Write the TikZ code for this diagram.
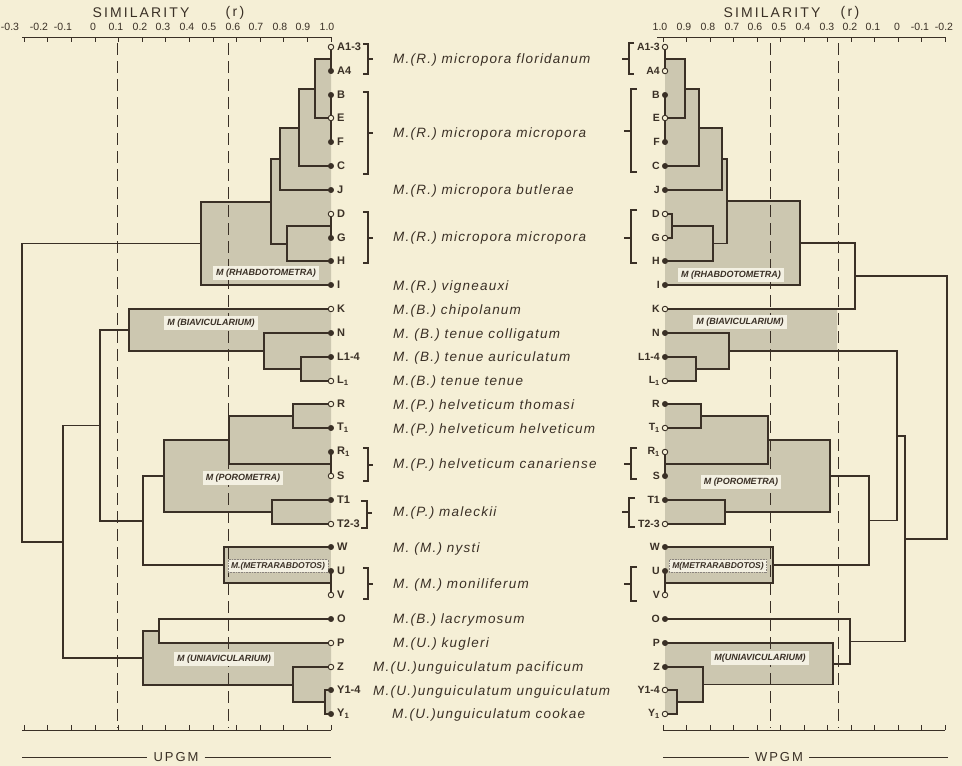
\documentclass[tikz,border=0pt]{standalone}
\usepackage{fontspec}
\setmainfont{Liberation Sans}
\newfontfamily\spfont[LetterSpace=9]{Liberation Sans}
\newfontfamily\ttlfont[LetterSpace=15]{Liberation Sans}
\definecolor{bg}{RGB}{245,239,214}
\definecolor{ink}{RGB}{58,48,38}
\definecolor{shd}{RGB}{204,199,176}
\definecolor{lbl}{RGB}{243,240,226}
\begin{document}
\begin{tikzpicture}[x=1pt,y=-1pt,
  tree/.style={draw=ink,line width=1.3pt},
  dsh/.style={draw=ink,line width=1pt,dash pattern=on 12pt off 6pt},
  axisline/.style={draw=ink,line width=0.9pt},
  dotf/.style={circle,fill=ink,draw=ink,inner sep=0pt,minimum size=5.5pt},
  doth/.style={circle,fill=bg,draw=ink,line width=0.9pt,inner sep=0pt,minimum size=5.5pt},
  leafL/.style={anchor=west,font=\fontsize{11}{12}\selectfont\bfseries,text=ink,inner sep=0pt},
  leafR/.style={anchor=east,font=\fontsize{10.5}{12}\selectfont\bfseries,text=ink,inner sep=0pt},
  sp/.style={anchor=west,font=\spfont\itshape\fontsize{13.5}{15}\selectfont,text=ink,inner sep=0pt},
  grp/.style={fill=lbl,font=\fontsize{9}{10}\selectfont\bfseries\itshape,text=ink,inner xsep=3pt,inner ysep=2.5pt},
  tl/.style={font=\fontsize{10.5}{12}\selectfont,text=ink,inner sep=0pt},
  ttl/.style={font=\ttlfont\fontsize{14}{16}\selectfont,text=ink,inner sep=0pt},
  brk/.style={draw=ink,line width=1.1pt}]

\fill[bg] (0,0) rectangle (962,766);
\useasboundingbox (0,0) rectangle (962,766);

% ---------- shading (left)
\fill[shd] (315,59)--(331,59)--(331,285)--(201,285)--(201,202)--(271,202)--(271,159)--(280,159)--(280,128)--(299,128)--(299,89)--(315,89)--cycle;
\fill[shd] (129,309)--(331,309)--(331,381)--(301,381)--(301,369)--(264,369)--(264,351)--(129,351)--cycle;
\fill[shd] (293,404)--(331,404)--(331,524)--(272,524)--(272,512)--(164,512)--(164,440)--(229,440)--(229,416)--(293,416)--cycle;
\fill[shd] (224,547) rectangle (331,583);
\fill[shd] (143,631)--(159,631)--(159,643)--(331,643)--(331,714)--(325,714)--(325,702)--(293,702)--(293,685)--(143,685)--cycle;
% ---------- shading (right)
\fill[shd] (665,59)--(685,59)--(685,89)--(699,89)--(699,128)--(722,128)--(722,159)--(727,159)--(727,201)--(800,201)--(800,285)--(665,285)--cycle;
\fill[shd] (665,309)--(837,309)--(837,351)--(729,351)--(729,369)--(696,369)--(696,381)--(665,381)--cycle;
\fill[shd] (665,404)--(701,404)--(701,416)--(768,416)--(768,440)--(830,440)--(830,512)--(725,512)--(725,524)--(665,524)--cycle;
\fill[shd] (665,547) rectangle (773,583);
\fill[shd] (665,643)--(833,643)--(833,684.5)--(703,684.5)--(703,702)--(677,702)--(677,714)--(665,714)--cycle;

% ---------- dashed reference lines
\draw[dsh] (117,43)--(117,728);
\draw[dsh] (228,43)--(228,728);
\draw[dsh] (770,43)--(770,728);
\draw[dsh] (838,43)--(838,728);

% ---------- axes
\draw[axisline] (22,37)--(331,37);
\draw[axisline] (657,37)--(945,37);
\draw[axisline] (22,730)--(331,730);
\draw[axisline] (663,730)--(945,730);
\foreach \k in {0,...,13} {
  \draw[axisline] ({331-23.6*\k},37)--({331-23.6*\k},42);
  \draw[axisline] ({331-23.6*\k},730)--({331-23.6*\k},725);
}
\foreach \k in {0,...,12} {
  \draw[axisline] ({663+23.5*\k},37)--({663+23.5*\k},42);
  \draw[axisline] ({663+23.5*\k},730)--({663+23.5*\k},725);
}
\foreach \x/\t [count=\i] in {327/1.0,303/0.9,280/0.8,256/0.7,233/0.6,209/0.5,187/0.4,163/0.3,140/0.2,116/0.1,93/0,63/-0.1,39/-0.2,10/-0.3}
  \node[tl] (tla\i) at (\x,27) {\t};
\foreach \x/\t [count=\i] in {660/1.0,684/0.9,708/0.8,732/0.7,755/0.6,779/0.5,803/0.4,827/0.3,850/0.2,873/0.1,897/0,920/-0.1,944/-0.2}
  \node[tl] (tlb\i) at (\x,27) {\t};
\node[ttl] (t1) at (141,13) {SIMILARITY};
\node[ttl] (t1r) at (235,13) {(\,r\,)};
\node[ttl] (t2) at (772,13) {SIMILARITY};
\node[ttl] (t2r) at (850,13) {(\,r\,)};

% ---------- left tree (UPGM)
\draw[tree] (331,47)--(331,71);
\draw[tree] (331,95)--(331,142);
\draw[tree] (331,59)-|(315,118)--(331,118);
\draw[tree] (315,89)-|(299,166)--(331,166);
\draw[tree] (299,128)-|(280,190)--(331,190);
\draw[tree] (331,214)--(331,238);
\draw[tree] (331,226)-|(287,261)--(331,261);
\draw[tree] (280,159)-|(271,244)--(287,244);
\draw[tree] (271,202)-|(201,285)--(331,285);
\draw[tree] (331,357)-|(301,381)--(331,381);
\draw[tree] (331,333)-|(264,369)--(301,369);
\draw[tree] (331,309)-|(129,351)--(264,351);
\draw[tree] (331,404)-|(293,428)--(331,428);
\draw[tree] (331,452)--(331,476);
\draw[tree] (293,416)-|(229,464)--(331,464);
\draw[tree] (331,500)-|(272,524)--(331,524);
\draw[tree] (229,440)-|(164,512)--(272,512);
\draw[tree] (331,571)--(331,595);
\draw[tree] (331,547)-|(224,583)--(331,583);
\draw[tree] (164,476)-|(143,565)--(224,565);
\draw[tree] (129,330)-|(100,521)--(143,521);
\draw[tree] (331,619)-|(159,643)--(331,643);
\draw[tree] (331,690)-|(325,714)--(331,714);
\draw[tree] (331,667)-|(293,702)--(325,702);
\draw[tree] (159,631)-|(143,685)--(293,685);
\draw[tree] (100,425.5)-|(63,658)--(143,658);
\draw[tree] (201,243.5)-|(22,542)--(63,542);

% ---------- right tree (WPGM)
\draw[tree] (665,47)--(665,71);
\draw[tree] (665,95)--(665,142);
\draw[tree] (665,59)-|(685,118)--(665,118);
\draw[tree] (685,89)-|(699,166)--(665,166);
\draw[tree] (699,128)-|(722,190)--(665,190);
\draw[tree] (665,214)-|(672,238)--(665,238);
\draw[tree] (672,226)-|(713,261)--(665,261);
\draw[tree] (722,159)-|(727,243.5)--(713,243.5);
\draw[tree] (727,201)-|(800,285)--(665,285);
\draw[tree] (800,243)-|(855,309)--(665,309);
\draw[tree] (665,357)-|(696,381)--(665,381);
\draw[tree] (665,333)-|(729,369)--(696,369);
\draw[tree] (665,404)-|(701,428)--(665,428);
\draw[tree] (665,452)--(665,476);
\draw[tree] (701,416)-|(768,464)--(665,464);
\draw[tree] (665,500)-|(725,524)--(665,524);
\draw[tree] (768,440)-|(830,512)--(725,512);
\draw[tree] (665,571)--(665,595);
\draw[tree] (665,547)-|(773,583)--(665,583);
\draw[tree] (830,476)-|(869,565)--(773,565);
\draw[tree] (729,351)-|(897,520.5)--(869,520.5);
\draw[tree] (665,690)-|(677,714)--(665,714);
\draw[tree] (665,667)-|(703,702)--(677,702);
\draw[tree] (665,643)-|(833,684.5)--(703,684.5);
\draw[tree] (665,619)-|(850,664)--(833,664);
\draw[tree] (897,436)-|(905,641.5)--(850,641.5);
\draw[tree] (855,276)-|(947,539)--(905,539);

% ---------- group labels
\node[grp] (gl1) at (266,273) {M (RHABDOTOMETRA)};
\node[grp] (gl2) at (211,323) {M (BIAVICULARIUM)};
\node[grp] (gl3) at (243,478) {M (POROMETRA)};
\node[grp,font=\fontsize{8.5}{10}\selectfont\bfseries\itshape,draw=ink!60,densely dotted,line width=0.6pt] (gl4) at (278,566) {M.(METRARABDOTOS)};
\node[grp] (gl5) at (224,659) {M (UNIAVICULARIUM)};
\node[grp] (gr1) at (731,275) {M (RHABDOTOMETRA)};
\node[grp] (gr2) at (740,322) {M (BIAVICULARIUM)};
\node[grp] (gr3) at (741,482) {M (POROMETRA)};
\node[grp,font=\fontsize{8.5}{10}\selectfont\bfseries\itshape,draw=ink!60,densely dotted,line width=0.6pt] (gr4) at (718,566) {M(METRARABDOTOS)};
\node[grp] (gr5) at (760,658) {M(UNIAVICULARIUM)};

% ---------- leaves
\foreach \y/\t/\a/\b [count=\i] in {47/A1-3/doth/doth, 71/A4/dotf/doth, 95/B/dotf/dotf, 118/E/doth/doth,
  142/F/dotf/dotf, 166/C/dotf/dotf, 190/J/dotf/dotf, 214/D/doth/doth, 238/G/dotf/doth, 261/H/dotf/dotf,
  285/I/dotf/dotf, 309/K/doth/doth, 333/N/dotf/dotf, 357/L1-4/dotf/dotf, 381/{L\textsubscript{1}}/doth/doth,
  404/R/doth/dotf, 428/{T\textsubscript{1}}/dotf/doth, 452/{R\textsubscript{1}}/dotf/doth, 476/S/doth/dotf,
  500/T1/dotf/dotf, 524/T2-3/doth/doth, 547/W/dotf/dotf, 571/U/dotf/dotf, 595/V/doth/doth,
  619/O/dotf/dotf, 643/P/doth/dotf, 667/Z/doth/dotf, 690/Y1-4/dotf/doth, 714/{Y\textsubscript{1}}/dotf/doth} {
  \node[\a] (dl\i) at (331,\y) {};
  \node[leafL] (ll\i) at (337,\y) {\t};
  \node[\b] (dr\i) at (665,\y) {};
  \node[leafR] (lr\i) at (660,\y) {\t};
}

% ---------- brackets left
\draw[brk] (363,44)--(368,44)--(368,74)--(363,74); \draw[brk] (368,59)--(373,59);
\draw[brk] (363,92)--(368,92)--(368,174)--(363,174); \draw[brk] (368,133)--(373,133);
\draw[brk] (363,212)--(368,212)--(368,263)--(363,263); \draw[brk] (368,238)--(373,238);
\draw[brk] (363,448)--(368,448)--(368,481)--(363,481); \draw[brk] (368,465)--(373,465);
\draw[brk] (361,501)--(367,501)--(367,528)--(361,528); \draw[brk] (367,513)--(372,513);
\draw[brk] (363,568)--(368,568)--(368,599)--(363,599); \draw[brk] (368,584)--(373,584);
% ---------- brackets right
\draw[brk] (634,43)--(629,43)--(629,74)--(634,74); \draw[brk] (629,59)--(622,59);
\draw[brk] (637,89)--(631,89)--(631,172)--(637,172); \draw[brk] (631,131)--(624,131);
\draw[brk] (637,210)--(631,210)--(631,263)--(637,263); \draw[brk] (631,238)--(624,238);
\draw[brk] (637,448)--(631,448)--(631,479)--(637,479); \draw[brk] (631,464)--(624,464);
\draw[brk] (635,498)--(629,498)--(629,527)--(635,527); \draw[brk] (629,512)--(622,512);
\draw[brk] (637,567)--(631,567)--(631,601)--(637,601); \draw[brk] (631,584)--(624,584);

% ---------- species names
\foreach \y/\x/\t [count=\i] in {60/393/{M.(R.) micropora floridanum}, 134/393/{M.(R.) micropora micropora},
  191/393/{M.(R.) micropora butlerae}, 238/393/{M.(R.) micropora micropora}, 287/393/{M.(R.) vigneauxi},
  311/393/{M.(B.) chipolanum}, 335/393/{M. (B.) tenue colligatum}, 358/393/{M. (B.) tenue auriculatum},
  382/393/{M.(B.) tenue tenue}, 406/393/{M.(P.) helveticum thomasi}, 430/393/{M.(P.) helveticum helveticum},
  465/393/{M.(P.) helveticum canariense}, 513/393/{M.(P.) maleckii}, 549/393/{M. (M.) nysti},
  585/393/{M. (M.) moniliferum}, 620/393/{M.(B.) lacrymosum}, 644/393/{M.(U.) kugleri},
  668/373/{M.(U.)unguiculatum pacificum}, 692/373/{M.(U.)unguiculatum unguiculatum},
  715/392/{M.(U.)unguiculatum cookae}}
  \node[sp] (sp\i) at (\x,\y) {\t};

% ---------- method captions
\node[ttl,font=\ttlfont\fontsize{13}{15}\selectfont,inner xsep=6pt] (upgm) at (176,757) {UPGM};
\node[ttl,font=\ttlfont\fontsize{13}{15}\selectfont,inner xsep=6pt] (wpgm) at (779,757) {WPGM};
\draw[axisline] (22,757)--(upgm.west); \draw[axisline] (upgm.east)--(331,757);
\draw[axisline] (663,757)--(wpgm.west); \draw[axisline] (wpgm.east)--(948,757);
\end{tikzpicture}
\end{document}
